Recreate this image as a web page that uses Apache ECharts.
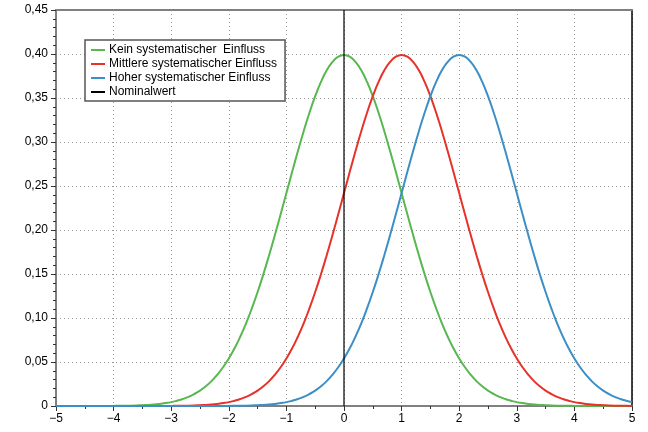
<!DOCTYPE html>
<html><head><meta charset="utf-8">
<script src="https://cdn.jsdelivr.net/npm/echarts@6/dist/echarts.min.js"></script>
<style>html,body{margin:0;padding:0;background:#fff}#c{width:648px;height:432px}</style>
</head><body><div id="c"></div>
<script>
var xValues = [-5,-4.9,-4.8,-4.7,-4.6,-4.5,-4.4,-4.3,-4.2,-4.1,-4,-3.9,-3.8,-3.7,-3.6,-3.5,-3.4,-3.3,-3.2,-3.1,-3,-2.9,-2.8,-2.7,-2.6,-2.5,-2.4,-2.3,-2.2,-2.1,-2,-1.9,-1.8,-1.7,-1.6,-1.5,-1.4,-1.3,-1.2,-1.1,-1,-0.9,-0.8,-0.7,-0.6,-0.5,-0.4,-0.3,-0.2,-0.1,0,0.1,0.2,0.3,0.4,0.5,0.6,0.7,0.8,0.9,1,1.1,1.2,1.3,1.4,1.5,1.6,1.7,1.8,1.9,2,2.1,2.2,2.3,2.4,2.5,2.6,2.7,2.8,2.9,3,3.1,3.2,3.3,3.4,3.5,3.6,3.7,3.8,3.9,4,4.1,4.2,4.3,4.4,4.5,4.6,4.7,4.8,4.9,5];
var kein = [0,0,0,0,0,0,0,0,0,0,
  0.0001,0.0002,0.0003,0.0004,0.0006,0.0009,0.0012,0.0017,0.0024,0.0033,0.0044,0.0060,0.0079,0.0104,0.0136,0.0175,0.0224,0.0283,0.0355,0.0440,0.0540,0.0656,0.0790,0.0940,0.1109,0.1295,0.1497,0.1714,0.1942,0.2179,0.2420,0.2661,0.2897,0.3123,0.3332,0.3521,0.3683,0.3814,0.3910,0.3970,
  0.3989,
  0.3970,0.3910,0.3814,0.3683,0.3521,0.3332,0.3123,0.2897,0.2661,0.2420,0.2179,0.1942,0.1714,0.1497,0.1295,0.1109,0.0940,0.0790,0.0656,0.0540,0.0440,0.0355,0.0283,0.0224,0.0175,0.0136,0.0104,0.0079,0.0060,0.0044,0.0033,0.0024,0.0017,0.0012,0.0009,0.0006,0.0004,0.0003,0.0002,0.0001,
  0,0,0,0,0,0,0,0,0,0];
var mittlere = [0,0,0,0,0,0,0,0,0,0,0,0,0,0,0,0,0,0,0,0,
  0.0001,0.0002,0.0003,0.0004,0.0006,0.0009,0.0012,0.0017,0.0024,0.0033,0.0044,0.0060,0.0079,0.0104,0.0136,0.0175,0.0224,0.0283,0.0355,0.0440,0.0540,0.0656,0.0790,0.0940,0.1109,0.1295,0.1497,0.1714,0.1942,0.2179,0.2420,0.2661,0.2897,0.3123,0.3332,0.3521,0.3683,0.3814,0.3910,0.3970,
  0.3989,
  0.3970,0.3910,0.3814,0.3683,0.3521,0.3332,0.3123,0.2897,0.2661,0.2420,0.2179,0.1942,0.1714,0.1497,0.1295,0.1109,0.0940,0.0790,0.0656,0.0540,0.0440,0.0355,0.0283,0.0224,0.0175,0.0136,0.0104,0.0079,0.0060,0.0044,0.0033,0.0024,0.0017,0.0012,0.0009,0.0006,0.0004,0.0003,0.0002,0.0001];
var hoher = [0,0,0,0,0,0,0,0,0,0,0,0,0,0,0,0,0,0,0,0,0,0,0,0,0,0,0,0,0,0,
  0.0001,0.0002,0.0003,0.0004,0.0006,0.0009,0.0012,0.0017,0.0024,0.0033,0.0044,0.0060,0.0079,0.0104,0.0136,0.0175,0.0224,0.0283,0.0355,0.0440,0.0540,0.0656,0.0790,0.0940,0.1109,0.1295,0.1497,0.1714,0.1942,0.2179,0.2420,0.2661,0.2897,0.3123,0.3332,0.3521,0.3683,0.3814,0.3910,0.3970,
  0.3989,
  0.3970,0.3910,0.3814,0.3683,0.3521,0.3332,0.3123,0.2897,0.2661,0.2420,0.2179,0.1942,0.1714,0.1497,0.1295,0.1109,0.0940,0.0790,0.0656,0.0540,0.0440,0.0355,0.0283,0.0224,0.0175,0.0136,0.0104,0.0079,0.0060,0.0044];
var nominalX = 0;
var seriesNames = ['Kein systematischer  Einfluss','Mittlere systematischer Einfluss','Hoher systematischer Einfluss','Nominalwert'];
var colors = ['#58b74f','#e6332a','#3c8fc6','#000000'];

function zip(xs, ys){ return xs.map(function(x,i){ return [x, ys[i]]; }); }
var font = 'Liberation Sans, Arial, sans-serif';
var chart = echarts.init(document.getElementById('c'), null, {renderer:'canvas'});
var curveStyle = function(i){ return {
  name: seriesNames[i], type:'line', data: zip(xValues, [kein,mittlere,hoher][i]),
  smooth: true, showSymbol:false, symbol:'none', color: colors[i],
  lineStyle:{width:2, color: colors[i]}, z: 3, animation:false
};};
chart.setOption({
  animation:false,
  grid:{left:56, right:16, top:10, bottom:26},
  legend:{
    orient:'vertical', left:85, top:40, data:seriesNames,
    backgroundColor:'#fff', borderColor:'#555', borderWidth:1.5, borderRadius:0,
    padding:[4,8,3,6], itemGap:2, itemWidth:14, itemHeight:2, icon:'rect',
    textStyle:{fontFamily:font, fontSize:12, color:'#000', padding:[0,0,0,-1]}
  },
  xAxis:[{
    type:'value', min:-5, max:5, interval:1,
    axisLine:{show:true, onZero:false, lineStyle:{color:'#808080', width:2}},
    axisTick:{show:true, inside:false, length:5, lineStyle:{color:'#333', width:1}},
    minorTick:{show:true, splitNumber:2, length:3, lineStyle:{color:'#333'}},
    axisLabel:{fontFamily:font, fontSize:12, color:'#000', margin:7,
      formatter:function(v){ return v<0 ? '\u2212'+Math.abs(v) : String(v); }},
    splitLine:{show:true, lineStyle:{color:'#999', type:[1,3], width:1}}
  },{
    type:'value', position:'top', min:-5, max:5,
    axisLine:{show:true, onZero:false, lineStyle:{color:'#808080', width:2}},
    axisTick:{show:false}, axisLabel:{show:false}, splitLine:{show:false}
  }],
  yAxis:[{
    type:'value', min:0, max:0.45, interval:0.05,
    axisLine:{show:true, onZero:false, lineStyle:{color:'#808080', width:2}},
    axisTick:{show:true, length:5, lineStyle:{color:'#333', width:1}},
    minorTick:{show:true, splitNumber:5, length:3, lineStyle:{color:'#333'}},
    axisLabel:{fontFamily:font, fontSize:12, color:'#000', margin:8,
      formatter:function(v){ return v===0 ? '0' : v.toFixed(2).replace('.',','); }},
    splitLine:{show:true, lineStyle:{color:'#999', type:[1,3], width:1}}
  },{
    type:'value', position:'right', min:0, max:0.45,
    axisLine:{show:true, onZero:false, lineStyle:{color:'#000', width:1.5}},
    axisTick:{show:false}, axisLabel:{show:false}, splitLine:{show:false}
  }],
  series:[curveStyle(0), curveStyle(1), curveStyle(2), {
    name: seriesNames[3], type:'line', data:[[nominalX,0],[nominalX,0.45]],
    showSymbol:false, symbol:'none', color:'#000', lineStyle:{width:1.2, color:'#000'}, z:4
  }]
});
</script></body></html>
